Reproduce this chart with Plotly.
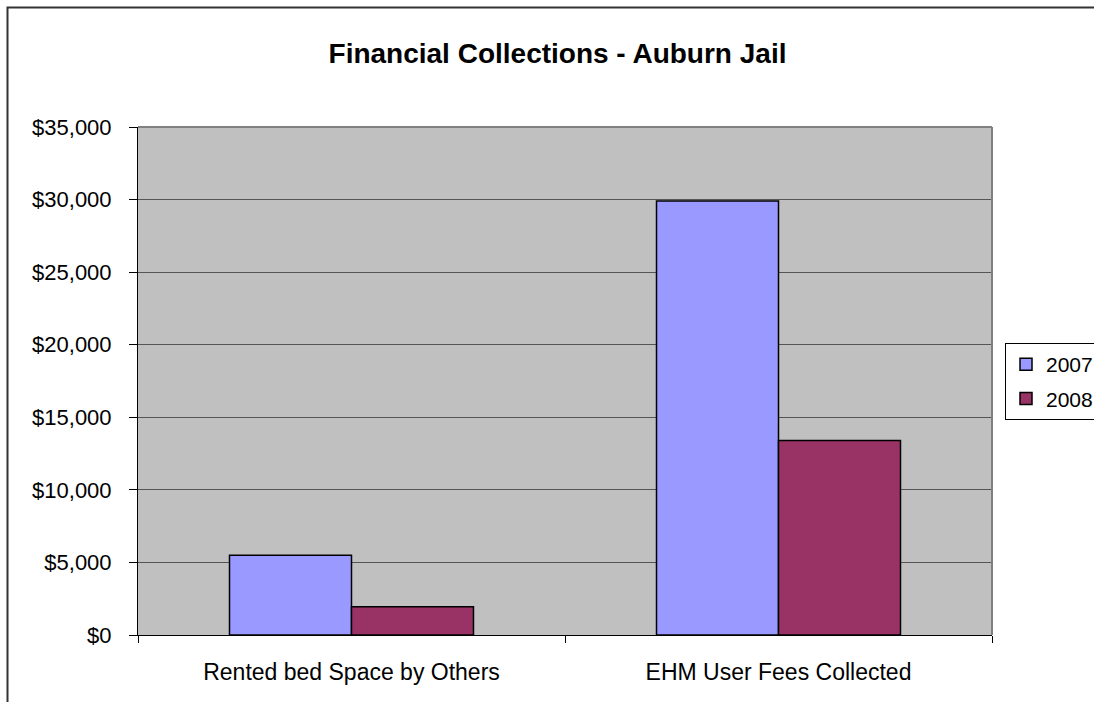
import plotly.graph_objects as go

categories = ["Rented bed Space by Others", "EHM User Fees Collected"]
series_names = ["2007", "2008"]
values_2007 = [5500, 29900]
values_2008 = [1950, 13400]
y_tick_values = [0, 5000, 10000, 15000, 20000, 25000, 30000, 35000]
y_tick_labels = ["$" + format(v, ",") for v in y_tick_values]

colors = ["#9999FF", "#993366"]
FONT = "Liberation Sans, Arial, sans-serif"

W, H = 1094, 702
L, R, T, B = 138, 992, 127, 635

fig = go.Figure()
for name, vals, col, grp in zip(series_names, [values_2007, values_2008], colors, ["a", "b"]):
    fig.add_trace(go.Bar(
        x=categories, y=vals, name=name, legendgroup=grp,
        marker=dict(color=col, line=dict(color="#000000", width=1.5)),
    ))

def px_to_paper_x(px):
    return (px - L) / (R - L)

def px_to_paper_y(py):
    return (B - py) / (B - T)

bx0, bx1 = px_to_paper_x(7.5), px_to_paper_x(1120)
by0, by1 = px_to_paper_y(720), px_to_paper_y(7.5)
border_path = f"M {bx0},{by0} L {bx0},{by1} L {bx1},{by1}"

shapes = [
    # outer chart border (only left and top edges are visible)
    dict(type="path", xref="paper", yref="paper", path=border_path,
         line=dict(color="#333333", width=2), layer="below"),
    # plot area top and right border
    dict(type="line", xref="paper", yref="paper", x0=0, x1=1, y0=1, y1=1,
         line=dict(color="#808080", width=2)),
    dict(type="line", xref="paper", yref="paper", x0=1, x1=1, y0=0, y1=1,
         line=dict(color="#808080", width=2)),
]

fig.update_layout(
    width=W, height=H,
    margin=dict(l=L, r=W - R, t=T, b=H - B, autoexpand=False),
    paper_bgcolor="#FFFFFF",
    plot_bgcolor="#C0C0C0",
    font=dict(family=FONT, size=22, color="#000000"),
    title=dict(text="<b>Financial Collections - Auburn Jail</b>",
               x=557.5 / W, xref="container", xanchor="center",
               y=1 - 53 / H, yref="container", yanchor="middle",
               font=dict(family=FONT, size=28, color="#000000")),
    barmode="group", bargap=0.4286, bargroupgap=0,
    showlegend=True,
    legend=dict(x=px_to_paper_x(1005), xanchor="left",
                y=px_to_paper_y(343), yanchor="top",
                bordercolor="#000000", borderwidth=1, bgcolor="#FFFFFF",
                font=dict(family=FONT, size=21), tracegroupgap=4,
                itemwidth=30),
    shapes=shapes,
)

fig.update_xaxes(
    type="category", showline=True, linecolor="#000000", linewidth=1,
    ticks="outside", tickson="boundaries", ticklen=7, tickcolor="#000000",
    showgrid=False, tickfont=dict(family=FONT, size=23),
    ticklabelstandoff=16,
)
fig.update_yaxes(
    range=[0, 35000], tickmode="array", tickvals=y_tick_values,
    ticktext=y_tick_labels,
    showline=True, linecolor="#000000", linewidth=1,
    ticks="outside", ticklen=8, tickcolor="#000000",
    showgrid=True, gridcolor="#555555", gridwidth=1,
    zeroline=False, tickfont=dict(family=FONT, size=22),
    ticklabelstandoff=13,
)

fig.write_html("out.html", config={"displayModeBar": False},
               post_script="document.body.style.margin='0';")
